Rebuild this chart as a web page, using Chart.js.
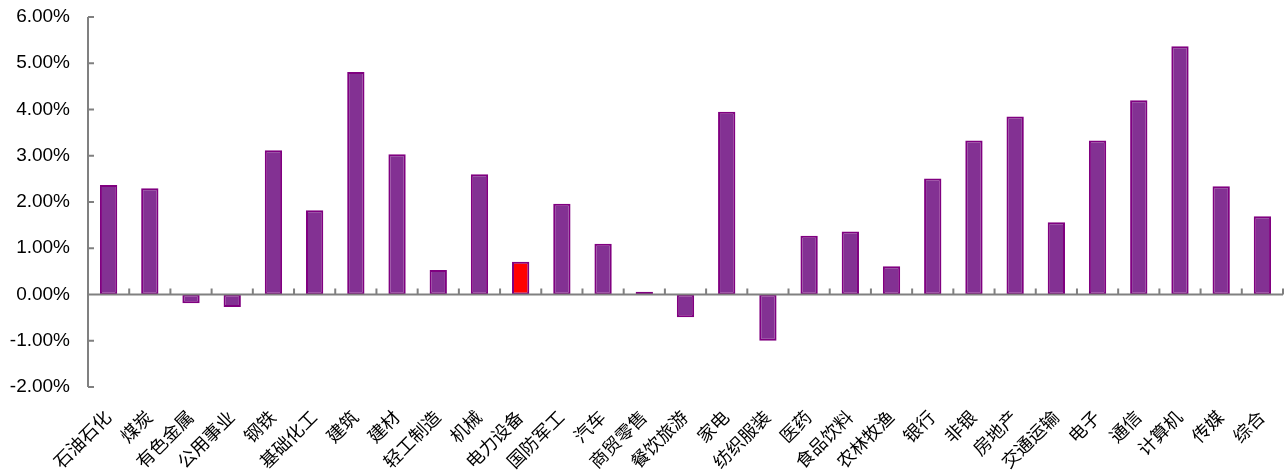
<!DOCTYPE html>
<html>
<head>
<meta charset="utf-8">
<script src="https://cdn.jsdelivr.net/npm/chart.js@4/dist/chart.umd.min.js"></script>
<style>
  html, body { margin: 0; padding: 0; background: #fff; }
  #wrap { width: 1287px; height: 471px; }
</style>
</head>
<body>
<div id="wrap"><canvas id="myChart" width="1287" height="471"></canvas></div>
<script>
// 行业名称
const categories = ["石油石化", "煤炭", "有色金属", "公用事业", "钢铁", "基础化工", "建筑", "建材", "轻工制造", "机械",
  "电力设备", "国防军工", "汽车", "商贸零售", "餐饮旅游", "家电", "纺织服装", "医药", "食品饮料", "农林牧渔",
  "银行", "非银", "房地产", "交通运输", "电子", "通信", "计算机", "传媒", "综合"];

// 涨跌幅 (%)
const values = [2.37, 2.30, -0.19, -0.27, 3.12, 1.82, 4.81, 3.03, 0.53, 2.60,
  0.71, 1.96, 1.10, 0.06, -0.49, 3.95, -1.00, 1.27, 1.36, 0.61,
  2.51, 3.33, 3.85, 1.56, 3.33, 4.20, 5.37, 2.34, 1.69];

// 高亮的行业
const highlight = ["电力设备"];

const yMin = -2, yMax = 6, yStep = 1;

const barColor = "#833193";
const barBorder = "#800080";
const axisColor = "#808080";

// 坐标轴和刻度线（刻度向内）
const axisPlugin = {
  id: "axisPlugin",
  afterDatasetsDraw(chart) {
    const { ctx, chartArea, scales } = chart;
    const x = scales.x, y = scales.y;
    const y0 = y.getPixelForValue(0);
    ctx.save();
    ctx.strokeStyle = axisColor;
    ctx.lineWidth = 2;
    ctx.beginPath();
    // y 轴
    ctx.moveTo(chartArea.left, y.getPixelForValue(yMax));
    ctx.lineTo(chartArea.left, y.getPixelForValue(yMin));
    for (let v = yMin; v <= yMax; v += yStep) {
      const py = y.getPixelForValue(v);
      ctx.moveTo(chartArea.left, py);
      ctx.lineTo(chartArea.left + 6, py);
    }
    // 0 轴
    ctx.moveTo(chartArea.left, y0);
    ctx.lineTo(chartArea.right, y0);
    const half = (x.getPixelForTick(1) - x.getPixelForTick(0)) / 2;
    for (let i = 0; i < categories.length; i++) {
      const px = x.getPixelForTick(i) + half;
      ctx.moveTo(px, y0);
      ctx.lineTo(px, y0 - 6);
    }
    ctx.stroke();
    ctx.restore();
  }
};

const ctx = document.getElementById("myChart").getContext("2d");
new Chart(ctx, {
  type: "bar",
  data: {
    labels: categories,
    datasets: [{
      data: values,
      backgroundColor: categories.map(c => highlight.includes(c) ? "#FF0000" : barColor),
      borderColor: barBorder,
      borderWidth: 2,
      borderSkipped: false,
      barPercentage: 0.42,
      categoryPercentage: 1.0
    }]
  },
  options: {
    responsive: false,
    animation: false,
    layout: { padding: { top: 0, right: 4, left: 0, bottom: 0 } },
    plugins: {
      legend: { display: false },
      tooltip: { enabled: false }
    },
    scales: {
      x: {
        grid: { display: false, drawTicks: false },
        border: { display: false },
        ticks: {
          autoSkip: false,
          maxRotation: 45,
          minRotation: 45,
          padding: 19,
          labelOffset: -1,
          color: "#000",
          font: { family: "'Noto Sans CJK SC'", size: 18 }
        },
        afterFit(scale) {
          scale.height = 84;
          scale.paddingRight = 0;
        }
      },
      y: {
        min: yMin,
        max: yMax,
        grid: { display: false, drawTicks: false },
        border: { display: false },
        ticks: {
          stepSize: yStep,
          padding: 18,
          color: "#000",
          font: { family: "'Liberation Sans', Arial", size: 19 },
          callback: v => v.toFixed(2) + "%"
        },
        afterFit(scale) {
          scale.width = 88;
          scale.paddingTop = 17;
          scale.paddingBottom = 11;
        }
      }
    }
  },
  plugins: [axisPlugin]
});
</script>
</body>
</html>
